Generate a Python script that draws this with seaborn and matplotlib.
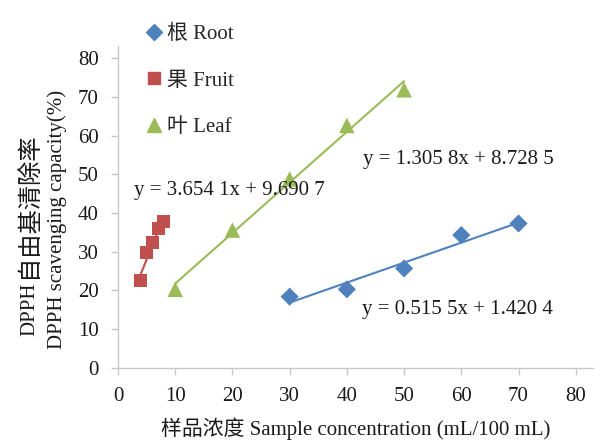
import numpy as np
import pandas as pd
import matplotlib
matplotlib.use("Agg")
import matplotlib.pyplot as plt
import seaborn as sns
from matplotlib.lines import Line2D

# data
root_x = [30, 40, 50, 60, 70]
root_y = [18.4, 20.3, 25.7, 34.3, 37.3]
fruit_x = [4, 5, 6, 7, 8]
fruit_y = [22.7, 29.8, 32.3, 35.9, 37.8]
leaf_x = [10, 20, 30, 40, 50]
leaf_y = [20.3, 35.6, 48.8, 62.6, 71.8]

groups = ["根 Root", "果 Fruit", "叶 Leaf"]
slopes = [0.5155, 3.6541, 1.3058]
intercepts = [1.4204, 9.6907, 8.7285]
eq_labels = ["y = 0.515 5x + 1.420 4", "y = 3.654 1x + 9.690 7", "y = 1.305 8x + 8.728 5"]

x_ticks = [0, 10, 20, 30, 40, 50, 60, 70, 80]
y_ticks = [0, 10, 20, 30, 40, 50, 60, 70, 80]

colors = ["#4f81bd", "#c0504d", "#9bbb59"]
markers = ["D", "s", "^"]
msizes = [85, 88, 125]

df = pd.DataFrame({
    "x": root_x + fruit_x + leaf_x,
    "y": root_y + fruit_y + leaf_y,
    "group": [groups[0]] * 5 + [groups[1]] * 5 + [groups[2]] * 5,
})

sns.set_theme(style="white")
plt.rcParams["font.family"] = ["Liberation Serif", "Noto Sans CJK SC", "DejaVu Sans"]
txt = "#1a1a1a"
fs = 15

fig = plt.figure(figsize=(6.1, 4.44), dpi=100)
ax = fig.add_axes([0.1934, 0.1712, 0.7786, 0.7243])

# trend lines (from the fitted equations)
for xs, k, b, c in zip([root_x, fruit_x, leaf_x], slopes, intercepts, colors):
    xx = np.array([min(xs), max(xs)])
    ax.plot(xx, k * xx + b, color=c, lw=1.5, zorder=2)

sns.scatterplot(data=df, x="x", y="y", hue="group", style="group", size="group",
                palette=dict(zip(groups, colors)), markers=dict(zip(groups, markers)),
                sizes=dict(zip(groups, msizes)), edgecolor="none", legend=False,
                ax=ax, zorder=3)

ax.set_xlim(0, 83)
ax.set_ylim(0, 83)
ax.set_xticks(x_ticks)
ax.set_yticks(y_ticks)
ax.tick_params(axis="both", direction="out", length=5, width=1,
               color="#c8c8c8", labelsize=fs, labelcolor=txt, bottom=True, left=True)
ax.tick_params(axis="y", pad=9)
ax.tick_params(axis="x", pad=9)
for side in ["top", "right"]:
    ax.spines[side].set_visible(False)
for side in ["left", "bottom"]:
    ax.spines[side].set_color("#c8c8c8")
    ax.spines[side].set_linewidth(1)

ax.set_xlabel("样品浓度 Sample concentration (mL/100 mL)", fontsize=fs, color=txt, labelpad=8)
ax.set_ylabel("")

# two-line y label (outer line split so the Chinese part can be wider)
fig.text(0.049, 1 - 309 / 444, "DPPH", rotation=90, ha="center", va="center",
         fontsize=fs, color=txt)
fig.text(0.049, 1 - 205 / 444, "自由基清除率", rotation=90, ha="center", va="center",
         fontsize=17.5, color=txt, fontweight="light")
fig.text(0.093, 1 - 219 / 444, "DPPH scavenging capacity(%)", rotation=90, ha="center",
         va="center", fontsize=fs, color=txt)

# equation labels
ax.text(19.4, 45.9, eq_labels[1], fontsize=fs, ha="center", va="center", color=txt)
ax.text(59.4, 53.7, eq_labels[2], fontsize=fs, ha="center", va="center", color=txt)
ax.text(59.4, 15, eq_labels[0], fontsize=fs, ha="center", va="center", color=txt)

handles = [Line2D([], [], marker=m, color=c, ls="none", markersize=ms)
           for m, c, ms in zip(markers, colors, [8, 9, 10])]
fig.legend(handles, groups, loc="upper left", bbox_to_anchor=(0.225, 0.968), frameon=False,
           fontsize=fs, labelspacing=1.29, handlelength=0.6, handletextpad=0.35, borderpad=0)

fig.savefig("out.png", dpi=100, facecolor="white")
